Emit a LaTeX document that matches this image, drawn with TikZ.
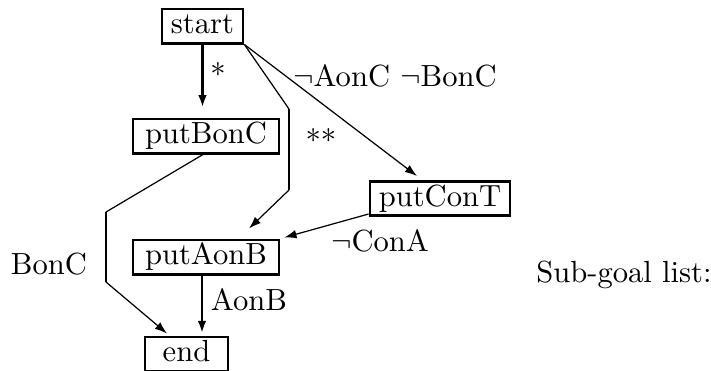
\documentclass[tikz,border=0pt]{standalone}
\usetikzlibrary{arrows.meta,calc}
\begin{document}
\begin{tikzpicture}[x=0.327pt,y=-0.327pt,
  stepbox/.style={draw,line width=0.9pt,inner xsep=2.5pt,inner ysep=1.1pt,text height=7pt,text depth=2pt,font=\fontsize{10}{12}\selectfont},
  lbl/.style={inner sep=0pt,font=\fontsize{10}{12}\selectfont},
  thinln/.style={line width=0.4pt},
  thickln/.style={line width=0.8pt},
  tip/.style={-{Latex[length=4pt,width=2.8pt]}}]
\useasboundingbox (0,0) rectangle (711,370);
% nodes
\node[stepbox,minimum width=26.5pt] (start) at (202.5,26) {start};
\node[stepbox,minimum width=47.7pt] (putBonC) at (206,136) {putBonC};
\node[stepbox,minimum width=47.7pt] (putAonB) at (206,257) {putAonB};
\node[stepbox,minimum width=45.8pt] (putConT) at (440,198.5) {putConT};
\node[stepbox,minimum width=27.1pt] (end) at (186.5,354) {end};
% bend points
\coordinate (b1) at (289,109);
\coordinate (b2) at (289,190);
\coordinate (c1) at (106,212);
\coordinate (c2) at (106,282);
\coordinate (t1) at ($(putAonB.north)+(43,-10)$);
\coordinate (t2) at ($(putConT.north)+(-23,-4)$);
\coordinate (t3) at ($(end.north)+(-19.5,-2)$);
\coordinate (a1) at ($(putAonB.south)+(-4,0)$);
\coordinate (s1) at ($(putConT.south west)+(0,-3)$);
\coordinate (s2) at ($(putAonB.north east)+(4,-1)$);
\coordinate (p1) at ($(putBonC.south)+(-3,0)$);
% connectors
\draw[thickln,tip,shorten >=3.3pt] (start.south) -- (start.south |- putBonC.north);
\draw[thinln] (start.south east) -- (b1);
\draw[thickln] (b1) -- (b2);
\draw[thinln,tip] (b2) -- (t1);
\draw[thinln,tip] (start.south east) -- (t2);
\draw[thinln,tip] (s1) -- (s2);
\draw[thinln] (p1) -- (c1);
\draw[thickln] (c1) -- (c2);
\draw[thinln,tip] (c2) -- (t3);
\draw[thickln,tip,shorten >=0.8pt] (a1) -- (a1 |- end.north);
% labels
\node[lbl] (l1) at (218,74) {*};
\node[lbl] (l2) at (321,140) {**};
\node[lbl] (l3) at (395,76) {$\neg$AonC $\neg$BonC};
\node[lbl] (l4) at (380,241) {$\neg$ConA};
\node[lbl] (l5) at (249,300) {AonB};
\node[lbl] (l6) at (49,264) {BonC};
\node[lbl] (l7) at (624,275) {Sub-goal list:};
\end{tikzpicture}
\end{document}
